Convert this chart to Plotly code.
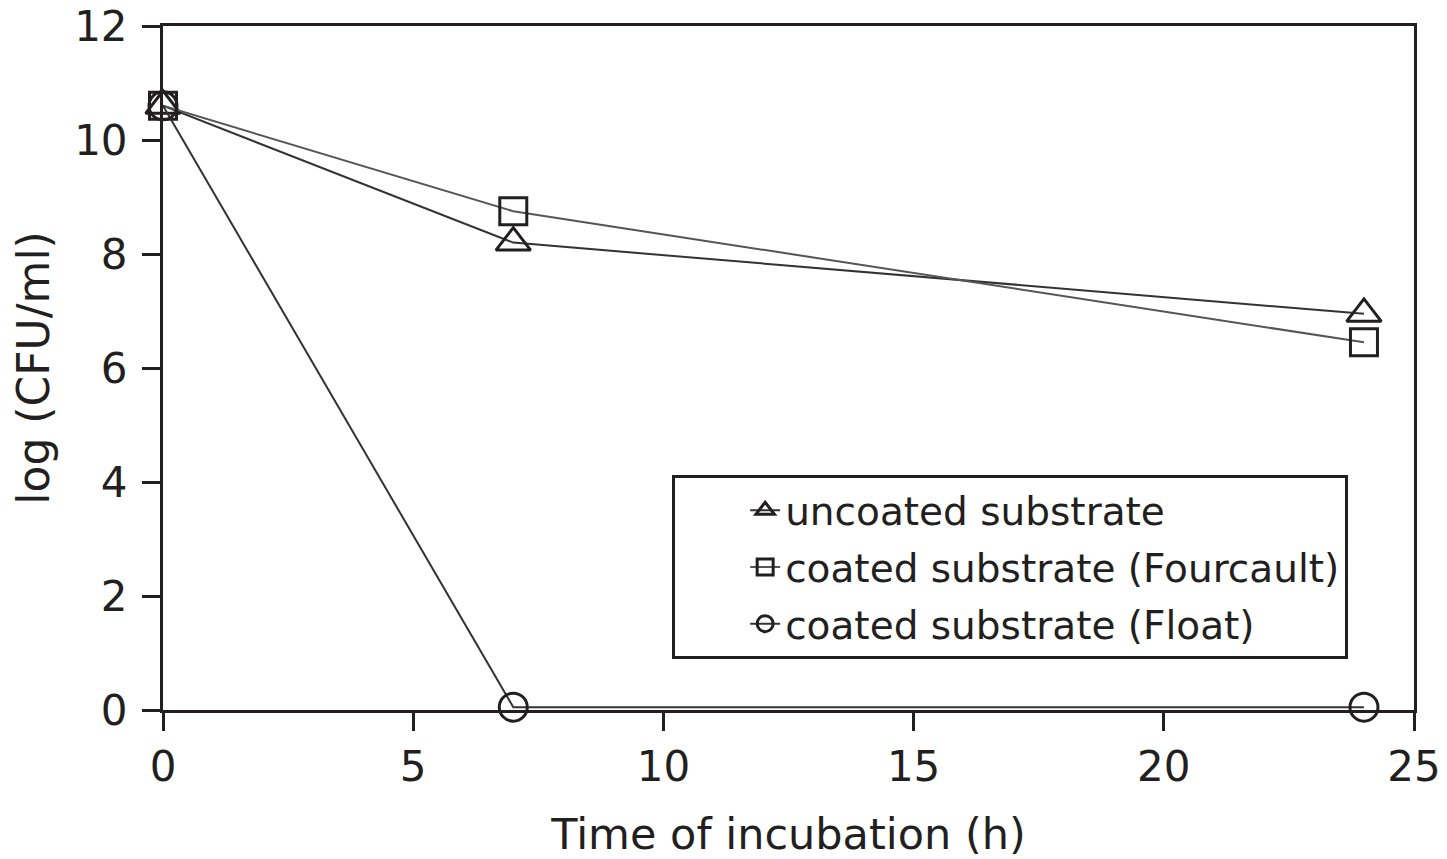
import plotly.graph_objects as go

time_h = [0, 7, 24]
uncoated = [10.6, 8.2, 6.95]
coated_fourcault = [10.6, 8.75, 6.45]
coated_float = [10.6, 0.05, 0.05]

series_names = ["uncoated substrate", "coated substrate (Fourcault)", "coated substrate (Float)"]
x_ticks = [0, 5, 10, 15, 20, 25]
y_ticks = [0, 2, 4, 6, 8, 10, 12]

INK = "#231f20"
FONT = "DejaVu Sans"

fig = go.Figure()
styles = [
    (uncoated, "triangle-up-open", 30, "#333333"),
    (coated_fourcault, "square-open", 27, "#555555"),
    (coated_float, "circle-open", 28, "#333333"),
]
for i, (vals, sym, sz, lc) in enumerate(styles):
    fig.add_trace(go.Scatter(
        x=time_h, y=vals, name=series_names[i], mode="lines+markers",
        legendgroup=f"g{i}",
        line=dict(color=lc, width=2),
        marker=dict(symbol=sym, size=sz, color=INK, line=dict(width=3, color=INK)),
        cliponaxis=False,
    ))

axis_common = dict(
    showline=True, linewidth=3, linecolor=INK, mirror=True,
    ticks="outside", ticklen=18, tickwidth=3, tickcolor=INK,
    showgrid=False, zeroline=False, layer="below traces", automargin=False,
    tickfont=dict(family=FONT, size=42, color=INK),
)

fig.update_layout(
    width=1447, height=859,
    margin=dict(l=163, r=33, t=26, b=149, autoexpand=False),
    paper_bgcolor="white", plot_bgcolor="white",
    font=dict(family=FONT, color=INK),
    xaxis=dict(range=[0, 25], tickvals=x_ticks,
               title=dict(text="Time of incubation (h)", font=dict(family=FONT, size=43, color=INK), standoff=33),
               ticklabelstandoff=0, **axis_common),
    yaxis=dict(range=[0, 12], tickvals=y_ticks,
               title=dict(text="log (CFU/ml)", font=dict(family=FONT, size=44, color=INK), standoff=11),
               ticklabelstandoff=6, **axis_common),
    legend=dict(x=0.407, y=0.343, xanchor="left", yanchor="top",
                bgcolor="white", bordercolor=INK, borderwidth=3,
                font=dict(family=FONT, size=39, color=INK),
                tracegroupgap=3, indentation=70, traceorder="grouped"),
    showlegend=True,
)

fig.write_html("out.html")
